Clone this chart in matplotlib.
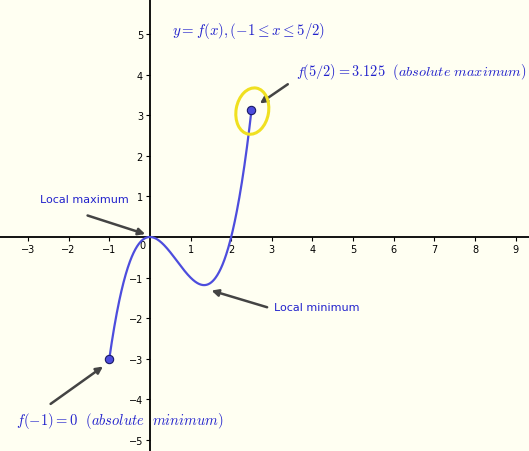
import numpy as np
import matplotlib
matplotlib.use("Agg")
import matplotlib.pyplot as plt
from matplotlib.patches import Ellipse

plt.rcParams["mathtext.fontset"] = "cm"

# cubic f(x) = x^3 - 2x^2 coefficients
coeffs = [1, -2, 0, 0]
x_start, x_end = -1.0, 2.5
end_points_x = [-1.0, 2.5]
end_points_y = [-3.0, 3.125]
xticks = [-3, -2, -1, 1, 2, 3, 4, 5, 6, 7, 8, 9]
yticks = [-5, -4, -3, -2, -1, 1, 2, 3, 4, 5]

fig = plt.figure(figsize=(5.29, 4.52), dpi=100)
bg = "#fffff2"
fig.patch.set_facecolor(bg)
ax = fig.add_axes([0, 0, 1, 1])
ax.set_facecolor(bg)
ax.set_xlim(-3.69, 9.33)
ax.set_ylim(-5.27, 5.86)
for s in ["top", "right"]:
    ax.spines[s].set_visible(False)
ax.spines["left"].set_position(("data", 0))
ax.spines["bottom"].set_position(("data", 0))
ax.spines["left"].set_linewidth(1.3)
ax.spines["bottom"].set_linewidth(1.3)
ax.set_xticks(xticks)
ax.set_yticks(yticks)
ax.tick_params(direction="out", length=3, labelsize=7, pad=2)
ax.text(-0.12, -0.08, "0", fontsize=7, ha="right", va="top")

xs = np.linspace(x_start, x_end, 400)
ax.plot(xs, np.polyval(coeffs, xs), color="#4d4ddd", lw=1.6, zorder=3)
ax.scatter(end_points_x, end_points_y, s=36, color="#4d4ddd", edgecolor="#1a1a66", lw=0.8, zorder=4)

blue = "#2222cc"
ax.text(0.55, 5.0, r"$y = f(x), (-1 \leq x \leq 5/2)$", color=blue, fontsize=10.7)
ax.text(3.6, 4.0, r"$f(5/2) = 3.125\ \ (absolute\ maximum)$", color=blue, fontsize=10.3)
ax.text(-3.3, -4.6, r"$f(-1) = 0\ \ (absolute\ \ minimum)$", color=blue, fontsize=10.5)
ax.text(-2.7, 0.85, "Local maximum", color=blue, fontsize=8)
ax.text(3.05, -1.8, "Local minimum", color=blue, fontsize=8)

ac = "#444444"
kw = dict(arrowstyle="-|>", color=ac, lw=1.8, mutation_scale=10)
ax.annotate("", xy=(-0.05, 0.05), xytext=(-1.6, 0.55), arrowprops=kw)
ax.annotate("", xy=(1.45, -1.3), xytext=(2.95, -1.75), arrowprops=kw)
ax.annotate("", xy=(-1.1, -3.15), xytext=(-2.5, -4.15), arrowprops=kw)
ax.annotate("", xy=(2.65, 3.25), xytext=(3.45, 3.8), arrowprops=kw)

ax.add_patch(Ellipse((2.52, 3.1), 0.8, 1.15, angle=-10, fill=False, ec="#f0e020", lw=2.2, zorder=5))

fig.savefig("out.png", dpi=100, facecolor=bg)
